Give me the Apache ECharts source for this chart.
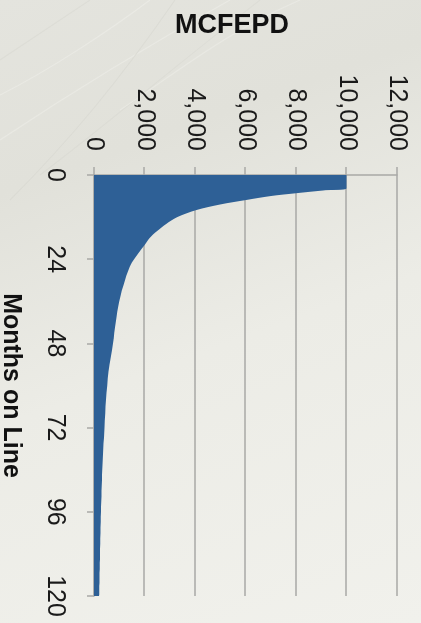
<!DOCTYPE html>
<html>
<head>
<meta charset="utf-8">
<script src="https://cdn.jsdelivr.net/npm/echarts@6/dist/echarts.min.js"></script>
<style>
  html, body { margin: 0; padding: 0; width: 421px; height: 623px; overflow: hidden; }
  body {
    background: linear-gradient(160deg, #e4e4de 0%, #e1e1da 25%, #ececE6 55%, #f1f1ec 100%);
    position: relative;
  }
  #deco { position: absolute; left: 0; top: 0; width: 421px; height: 623px; }
  /* the chart is laid out landscape and turned a quarter clockwise */
  #chart {
    position: absolute; left: 0; top: 0;
    width: 623px; height: 421px;
    transform-origin: 0 0;
    transform: translateX(421px) rotate(90deg);
  }
</style>
</head>
<body>
<svg id="deco" viewBox="0 0 421 623">
  <g fill="none" stroke-width="1.1" opacity="0.35">
    <path d="M0 140 C 60 100, 140 50, 230 0" stroke="#f6f6f2"/>
    <path d="M10 200 C 70 140, 120 80, 175 0" stroke="#cfcfc8"/>
    <path d="M0 95 C 50 70, 110 30, 150 0" stroke="#f7f7f3"/>
    <path d="M40 175 C 100 130, 170 70, 260 0" stroke="#d3d3cc"/>
    <path d="M0 60 C 30 40, 60 20, 90 0" stroke="#d1d1ca"/>
    <path d="M120 110 C 180 70, 230 30, 300 0" stroke="#f5f5f1"/>
  </g>
</svg>
<div id="chart"></div>
<script>
// Production decline: rate in MCFEPD against months on line
const months = [0, 3.8, 4.4, 5.2, 6.0, 7.1, 8.4, 10, 12, 14, 16, 18, 20, 25, 30, 36, 42, 48, 56, 64, 72, 84, 96, 108, 120];
const mcfepd = [10000, 10000, 9100, 8000, 7000, 6050, 5000, 4050, 3300, 2850, 2500, 2200, 2000, 1500, 1230, 1000, 860, 750, 575, 480, 415, 325, 275, 235, 200];

const monthTicks = [0, 24, 48, 72, 96, 120];
const rateTicks = [0, 2000, 4000, 6000, 8000, 10000, 12000];

const FONT = "'Liberation Sans', Arial, sans-serif";
const GRID_GRAY = '#a9a9a6';

const chart = echarts.init(document.getElementById('chart'), null, { renderer: 'canvas' });

chart.setOption({
  backgroundColor: 'transparent',
  animation: false,
  grid: { left: 175, right: 27, top: 24, bottom: 94, containLabel: false, outerBoundsMode: 'none' },
  xAxis: {
    type: 'value',
    min: monthTicks[0],
    max: monthTicks[monthTicks.length - 1],
    interval: monthTicks[1] - monthTicks[0],
    name: 'Months on Line',
    nameLocation: 'middle',
    nameGap: 71,
    nameTextStyle: { fontFamily: FONT, fontSize: 25, fontWeight: 'bold', color: '#111' },
    axisLine: { show: true, lineStyle: { color: GRID_GRAY, width: 1.5 } },
    axisTick: { show: true, length: 7, lineStyle: { color: GRID_GRAY, width: 1.5 } },
    axisLabel: { fontFamily: FONT, fontSize: 25, color: '#1a1a1a', margin: 27 },
    splitLine: { show: false }
  },
  yAxis: {
    type: 'value',
    min: rateTicks[0],
    max: rateTicks[rateTicks.length - 1],
    interval: rateTicks[1] - rateTicks[0],
    name: 'MCFEPD',
    nameLocation: 'middle',
    nameGap: 136,
    nameTextStyle: { fontFamily: FONT, fontSize: 27, fontWeight: 'bold', color: '#111', padding: [0, 27, 0, 0] },
    axisLine: { show: true, lineStyle: { color: GRID_GRAY, width: 1.5 } },
    axisTick: { show: true, length: 8, lineStyle: { color: GRID_GRAY, width: 1.5 } },
    axisLabel: {
      fontFamily: FONT, fontSize: 25, color: '#1a1a1a', margin: 24,
      formatter: v => v.toLocaleString('en-US')
    },
    splitLine: { show: true, lineStyle: { color: GRID_GRAY, width: 1.5 } }
  },
  series: [{
    type: 'line',
    data: months.map((m, i) => [m, mcfepd[i]]),
    showSymbol: false,
    smooth: 0.3,
    lineStyle: { width: 0, color: '#2e6096' },
    areaStyle: { color: '#2e6096', opacity: 1 },
    z: 3
  }]
});
</script>
</body>
</html>
